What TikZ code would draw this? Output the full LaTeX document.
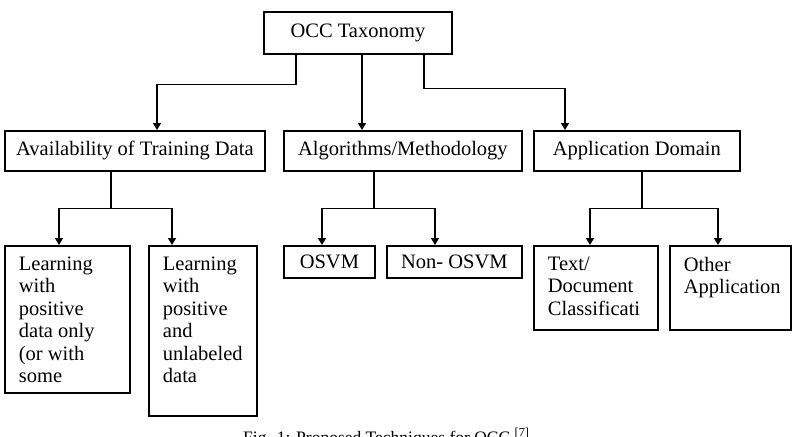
\documentclass[tikz,border=0pt]{standalone}
\usepackage{fontspec}
\setmainfont{Liberation Serif}
\usetikzlibrary{arrows.meta}

% スタイルの定義
\tikzset{
    box/.style={draw, line width=1.8pt, anchor=north west, inner sep=0pt,
        font=\fontsize{20.5}{22.5}\selectfont},
    conn/.style={line width=1.3pt},
    arr/.style={conn, -{Triangle[width=8pt,length=7pt]}}
}
\newcommand{\leaftext}[3]{\parbox[t][#1][t]{#2}{\vspace*{11pt}\raggedright\leftskip=14pt #3}}

\begin{document}
\begin{tikzpicture}[x=1pt,y=-1pt]

    % 描画範囲
    \clip (0,0) rectangle (794,436);
    \fill[white] (0,0) rectangle (794,436);

    % 最上位
    \node[box, minimum width=188pt, minimum height=42pt] (root) at (263,11) {OCC Taxonomy};

    % 第二階層
    \node[box, minimum width=260pt, minimum height=40pt] (avail) at (4,130) {Availability of Training Data};
    \node[box, minimum width=238pt, minimum height=40pt] (algo) at (283,130) {Algorithms/Methodology};
    \node[box, minimum width=206pt, minimum height=40pt] (appl) at (533,130) {Application Domain};

    % 第三階層
    \node[box] (lpos) at (4,245) {\leaftext{147pt}{125pt}{Learning\\with\\positive\\data only\\(or with\\some}};
    \node[box] (lpu) at (148,245) {\leaftext{170pt}{108pt}{Learning\\with\\positive\\and\\unlabeled\\data}};
    \node[box, minimum width=91pt, minimum height=32pt] (osvm) at (283,245) {OSVM};
    \node[box, minimum width=135pt, minimum height=32pt] (nonosvm) at (386,245) {Non- OSVM};
    \node[box] (textdoc) at (533,245) {\leaftext{84pt}{124pt}{Text/\\Document\\Classificati}};
    \node[box] (otherapp) at (669,245) {\leaftext{84pt}{121pt}{Other\\Application}};

    % 最上位からの矢印
    \draw[arr] ([xshift=33pt]root.south west) -- ++(0,30) -| ([xshift=153pt]avail.north west);
    \draw[arr] ([xshift=99pt]root.south west) -- ([xshift=79pt]algo.north west);
    \draw[arr] ([xshift=161pt]root.south west) -- ++(0,34) -| ([xshift=32pt]appl.north west);

    % 分岐点
    \draw[conn] ([xshift=107pt]avail.south west) -- ++(0,37) coordinate (availj);
    \draw[conn] ([xshift=91pt]algo.south west) -- ++(0,37) coordinate (algoj);
    \draw[conn] ([xshift=109pt]appl.south west) -- ++(0,37) coordinate (applj);

    % 第三階層への矢印
    \draw[arr] (availj) -| ([xshift=55pt]lpos.north west);
    \draw[arr] (availj) -| ([xshift=24pt]lpu.north west);
    \draw[arr] (algoj) -| ([xshift=39pt]osvm.north west);
    \draw[arr] (algoj) -| ([xshift=49pt]nonosvm.north west);
    \draw[arr] (applj) -| ([xshift=57pt]textdoc.north west);
    \draw[arr] (applj) -| ([xshift=49pt]otherapp.north west);

    % キャプション
    \node[anchor=base west, inner sep=0pt, font=\fontsize{17.5}{20}\selectfont] (caption) at (243,443)
        {Fig. 1: Proposed Techniques for OCC \textsuperscript{[7]}};

\end{tikzpicture}
\end{document}
